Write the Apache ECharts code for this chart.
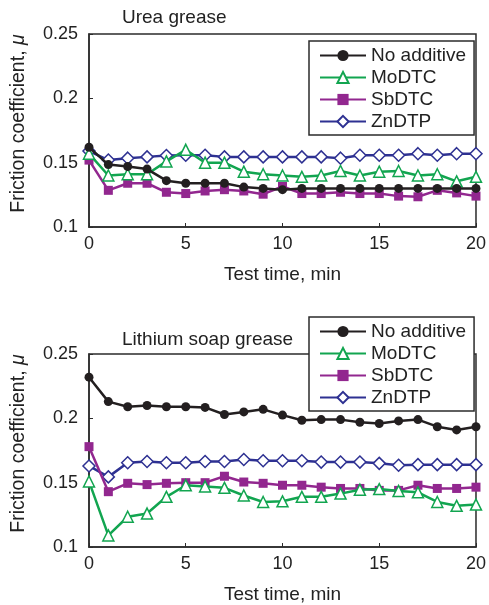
<!DOCTYPE html>
<html>
<head>
<meta charset="utf-8">
<script src="https://cdn.jsdelivr.net/npm/echarts@6/dist/echarts.min.js"></script>
<style>html,body{margin:0;padding:0;background:#fff;}#c{width:489px;height:605px;}</style>
</head>
<body>
<div id="c"></div>
<script>
const times = [0,1,2,3,4,5,6,7,8,9,10,11,12,13,14,15,16,17,18,19,20];
const seriesNames = ['No additive','MoDTC','SbDTC','ZnDTP'];
const panelTitles = ['Urea grease','Lithium soap grease'];
const xTicks = [0,5,10,15,20];
const yTicks = [0.1,0.15,0.2,0.25];

const ureaNoAdditive = [0.162,0.1485,0.147,0.145,0.136,0.134,0.134,0.134,0.131,0.130,0.129,0.130,0.130,0.130,0.130,0.130,0.130,0.130,0.130,0.130,0.130];
const ureaMoDTC      = [0.157,0.140,0.141,0.141,0.151,0.160,0.150,0.150,0.143,0.141,0.140,0.139,0.140,0.1435,0.140,0.143,0.1435,0.140,0.141,0.1355,0.139];
const ureaSbDTC      = [0.152,0.1285,0.134,0.134,0.127,0.126,0.128,0.129,0.128,0.1255,0.1315,0.126,0.126,0.127,0.126,0.126,0.124,0.1235,0.1285,0.1265,0.124];
const ureaZnDTP      = [0.159,0.152,0.1535,0.1545,0.1555,0.1558,0.1558,0.1545,0.1545,0.1545,0.1545,0.1545,0.1545,0.1535,0.1558,0.1558,0.1558,0.157,0.1558,0.157,0.157];

const lithNoAdditive = [0.232,0.213,0.209,0.210,0.209,0.209,0.2085,0.203,0.205,0.207,0.2025,0.1985,0.199,0.199,0.197,0.196,0.198,0.199,0.1935,0.191,0.1935];
const lithMoDTC      = [0.151,0.109,0.1235,0.126,0.139,0.148,0.147,0.146,0.140,0.135,0.1355,0.139,0.139,0.1415,0.1445,0.145,0.1435,0.1425,0.135,0.132,0.133];
const lithSbDTC      = [0.178,0.143,0.1495,0.1485,0.1495,0.150,0.150,0.155,0.1505,0.1495,0.148,0.148,0.1465,0.1455,0.1455,0.144,0.144,0.148,0.1455,0.1455,0.1465];
const lithZnDTP      = [0.163,0.1545,0.1655,0.1665,0.1655,0.1655,0.1665,0.1665,0.168,0.167,0.167,0.167,0.166,0.166,0.166,0.165,0.1635,0.164,0.164,0.164,0.164];

const panels = [
  [ureaNoAdditive, ureaMoDTC, ureaSbDTC, ureaZnDTP],
  [lithNoAdditive, lithMoDTC, lithSbDTC, lithZnDTP]
];

const FONT = '"Liberation Sans", Arial, Helvetica, sans-serif';
const AX = '#2b2b2b';
const styles = [
  {color:'#231f20', symbol:'circle', size:9, fill:'#231f20'},
  {color:'#12a550', symbol:'triangle', size:11, fill:'#ffffff'},
  {color:'#92278f', symbol:'rect', size:9, fill:'#92278f'},
  {color:'#2e3192', symbol:'diamond', size:12, fill:'#ffffff'}
];

const gridDefs = [
  {left:89, top:34, width:387, height:193},
  {left:89, top:354, width:387, height:194}
];

const grid = gridDefs.map(g => Object.assign({show:true, borderColor:AX, borderWidth:1.5, backgroundColor:'transparent'}, g));

const xAxis = gridDefs.map((g,i) => ({
  type:'value', gridIndex:i, min:0, max:20, interval:5,
  axisLine:{show:true, lineStyle:{color:AX, width:1.5}},
  axisTick:{show:true, inside:true, length:4, lineStyle:{color:AX, width:1}},
  axisLabel:{color:'#222', fontSize:18, fontFamily:FONT, margin:8,
    customValues: xTicks},
  splitLine:{show:false},
  name:'Test time, min', nameLocation:'middle', nameGap:38,
  nameTextStyle:{color:'#222', fontSize:19, fontFamily:FONT}
}));

const yAxis = gridDefs.map((g,i) => ({
  type:'value', gridIndex:i, min:0.1, max:0.25, interval:0.05,
  axisLine:{show:true, lineStyle:{color:AX, width:1.5}},
  axisTick:{show:true, inside:true, length:4, lineStyle:{color:AX, width:1}},
  axisLabel:{color:'#222', fontSize:18, fontFamily:FONT, margin:11,
    formatter: v => String(+v.toFixed(2))},
  splitLine:{show:false},
  name:'Friction coefficient, {i|μ}', nameLocation:'middle', nameGap:60, nameRotate:90,
  nameTextStyle:{color:'#222', fontSize:19.5, fontFamily:FONT, padding:[0,0,0,14],
    rich:{i:{fontStyle:'italic', fontSize:19.5, fontFamily:FONT, color:'#222'}}}
}));

const series = [];
panels.forEach((arrs, p) => {
  arrs.forEach((arr, k) => {
    const s = styles[k];
    series.push({
      type:'line', name:seriesNames[k], xAxisIndex:p, yAxisIndex:p,
      data: times.map((t,i) => [t, arr[i]]),
      symbol:s.symbol, symbolSize:s.size, showSymbol:true,
      lineStyle:{color:s.color, width:2.5},
      itemStyle:{color:s.fill, borderColor:s.color, borderWidth: s.fill==='#ffffff' ? 1.5 : 0},
      color:s.color,
      z: 2 + (3-k),
      animation:false
    });
  });
});

const legendTops = [41, 317];
const legend = legendTops.map(t => ({
  data: seriesNames.slice(),
  orient:'vertical', left:309, top:t,
  padding:[5,8,4,10], itemGap:3, itemWidth:46, itemHeight:14,
  backgroundColor:'#ffffff', borderColor:AX, borderWidth:1.5,
  textStyle:{color:'#222', fontSize:19, fontFamily:FONT},
  selectedMode:false, z:10
}));

const title = [
  {text:panelTitles[0], left:122, top:8, textStyle:{color:'#222', fontSize:19, fontWeight:'normal', fontFamily:FONT}, padding:0},
  {text:panelTitles[1], left:122, top:330, textStyle:{color:'#222', fontSize:19, fontWeight:'normal', fontFamily:FONT}, padding:0}
];

const chart = echarts.init(document.getElementById('c'), null, {renderer:'canvas'});
chart.setOption({
  animation:false,
  backgroundColor:'#ffffff',
  title, legend, grid, xAxis, yAxis, series
});
</script>
</body>
</html>
